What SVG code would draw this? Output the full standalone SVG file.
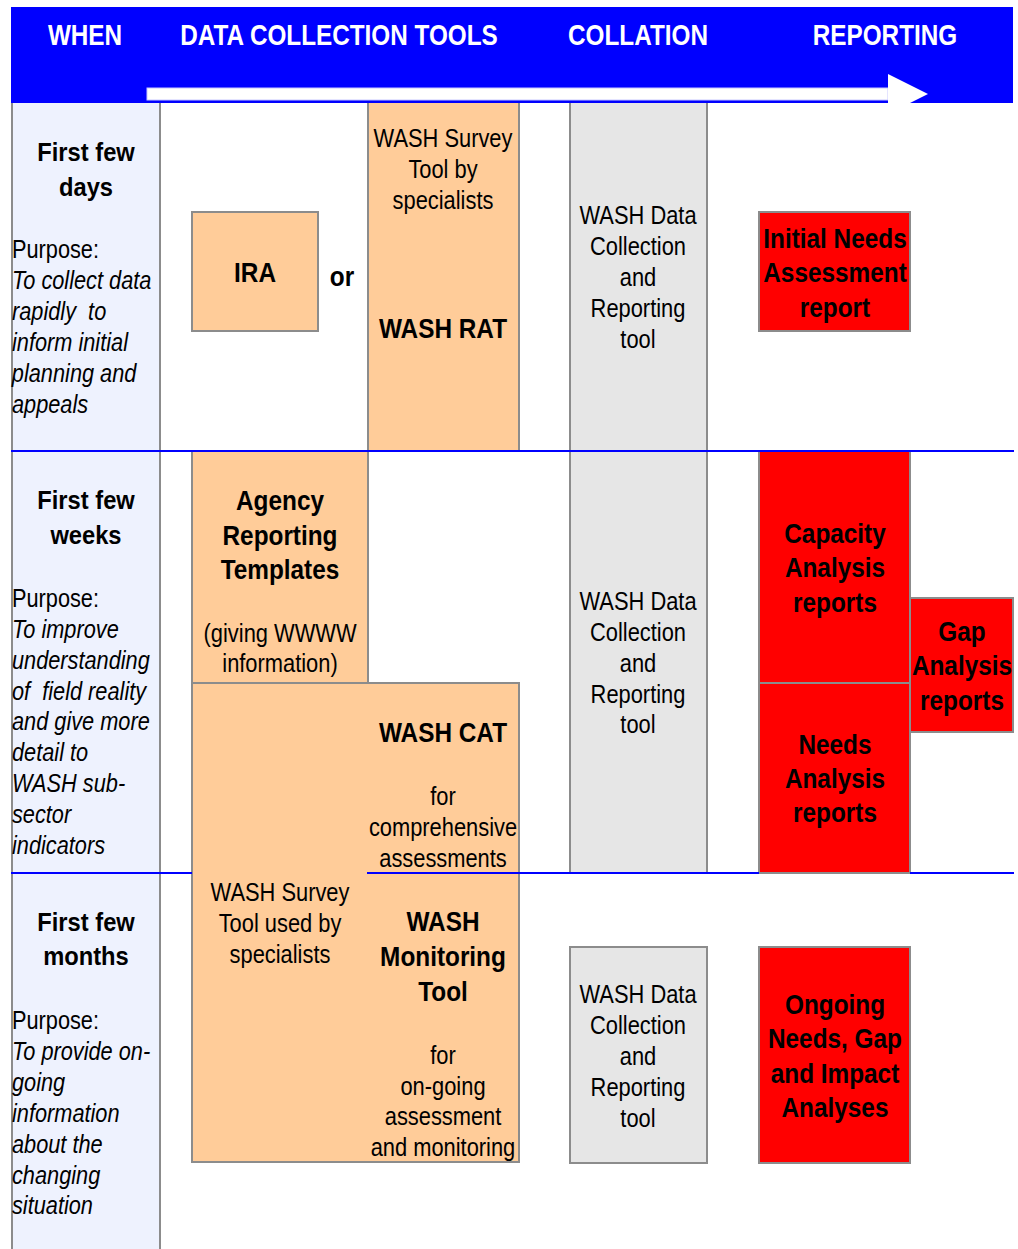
<svg xmlns="http://www.w3.org/2000/svg" width="1018" height="1249" viewBox="0 0 1018 1249">
<style>
text{font-family:"Liberation Sans",Arial,sans-serif;fill:#000;transform-box:fill-box;transform-origin:center;text-anchor:middle}
.hd{font-size:30px;font-weight:bold;fill:#fff;transform:scaleX(0.81)}
.wh{font-size:25.5px;font-weight:bold;transform:scaleX(0.93)}
.pu{font-size:25px;text-anchor:start;transform-origin:left center;transform:scaleX(0.87);white-space:pre}
.pu .i{font-style:italic}
.b{font-size:28px;font-weight:bold;transform:scaleX(0.87)}
.r{font-size:25px;transform:scaleX(0.875)}
.or{fill:#FFCC99;stroke:#8C8C8C;stroke-width:2}
.gr{fill:#E6E6E6;stroke:#8C8C8C;stroke-width:2}
.rd{fill:#FF0000;stroke:#8C8C8C;stroke-width:2}
.bl{stroke:#0000FF;stroke-width:2;fill:none}
.vl{stroke:#8C8C8C;stroke-width:2;fill:none}
</style>
<rect x="0" y="0" width="1018" height="1249" fill="#fff"/>
<g id="header">
<rect x="11" y="7" width="1002" height="96" fill="#0000FF"/>
<text class="hd" x="85" y="45">WHEN</text>
<text class="hd" x="339" y="45">DATA COLLECTION TOOLS</text>
<text class="hd" x="638" y="45">COLLATION</text>
<text class="hd" x="885" y="45">REPORTING</text>
</g>
<g id="connectors">
<rect x="147" y="88" width="741" height="12" fill="#fff" stroke="#C8C8FF" stroke-width="1"/>
<polygon points="888,74 928,94 888,114" fill="#fff"/>
</g>
<g id="when-column">
<rect x="11" y="103" width="149" height="1146" fill="#EEF2FE"/>
<line class="vl" x1="12" y1="103" x2="12" y2="1249"/>
<line class="vl" x1="160" y1="103" x2="160" y2="1249"/>
</g>
<g id="wash-rat-column">
<rect x="368" y="103" width="151" height="348" fill="#FFCC99"/>
<line class="vl" x1="368" y1="103" x2="368" y2="451"/>
<line class="vl" x1="519" y1="103" x2="519" y2="451"/>
</g>
<g id="collation-1">
<rect x="570" y="103" width="137" height="770" fill="#E6E6E6"/>
<line class="vl" x1="570" y1="103" x2="570" y2="873"/>
<line class="vl" x1="707" y1="103" x2="707" y2="873"/>
</g>
<g id="ira"><rect class="or" x="192" y="212" width="126" height="119"/></g>
<g id="initial-needs"><rect class="rd" x="759" y="212" width="151" height="119"/></g>
<g id="agency"><rect class="or" x="192" y="451" width="176" height="232"/></g>
<g id="survey-cat-monitoring"><rect class="or" x="192" y="683" width="327" height="479"/></g>
<g id="capacity-needs">
<rect class="rd" x="759" y="451" width="151" height="422"/>
<line class="vl" x1="759" y1="683" x2="910" y2="683"/>
</g>
<g id="gap"><rect class="rd" x="910" y="598" width="103" height="134"/></g>
<g id="collation-3"><rect class="gr" x="570" y="947" width="137" height="216"/></g>
<g id="ongoing"><rect class="rd" x="759" y="947" width="151" height="216"/></g>
<g id="row-lines">
<line class="bl" x1="11" y1="451" x2="1014" y2="451"/>
<line class="bl" x1="11" y1="873" x2="192" y2="873"/>
<line class="bl" x1="367" y1="873" x2="759" y2="873"/>
<line class="bl" x1="910" y1="873" x2="1014" y2="873"/>
</g>
<g id="when-days-text">
<text class="wh" x="86" y="161">First few</text>
<text class="wh" x="86" y="196">days</text>
<text class="pu" x="12" y="258">Purpose:</text>
<text class="pu" x="12" y="289"><tspan class="i">To collect data</tspan></text>
<text class="pu" x="12" y="320"><tspan class="i">rapidly  to</tspan></text>
<text class="pu" x="12" y="351"><tspan class="i">inform initial</tspan></text>
<text class="pu" x="12" y="382"><tspan class="i">planning and</tspan></text>
<text class="pu" x="12" y="413"><tspan class="i">appeals</tspan></text>
</g>
<g id="when-weeks-text">
<text class="wh" x="86" y="509">First few</text>
<text class="wh" x="86" y="544">weeks</text>
<text class="pu" x="12" y="607">Purpose:</text>
<text class="pu" x="12" y="638"><tspan class="i">To improve</tspan></text>
<text class="pu" x="12" y="669"><tspan class="i">understanding</tspan></text>
<text class="pu" x="12" y="700"><tspan class="i">of  field reality</tspan></text>
<text class="pu" x="12" y="730"><tspan class="i">and give more</tspan></text>
<text class="pu" x="12" y="761"><tspan class="i">detail to</tspan></text>
<text class="pu" x="12" y="792"><tspan class="i">WASH sub-</tspan></text>
<text class="pu" x="12" y="823"><tspan class="i">sector</tspan></text>
<text class="pu" x="12" y="854"><tspan class="i">indicators</tspan></text>
</g>
<g id="when-months-text">
<text class="wh" x="86" y="931">First few</text>
<text class="wh" x="86" y="965">months</text>
<text class="pu" x="12" y="1029">Purpose:</text>
<text class="pu" x="12" y="1060"><tspan class="i">To provide on-</tspan></text>
<text class="pu" x="12" y="1091"><tspan class="i">going</tspan></text>
<text class="pu" x="12" y="1122"><tspan class="i">information</tspan></text>
<text class="pu" x="12" y="1153"><tspan class="i">about the</tspan></text>
<text class="pu" x="12" y="1184"><tspan class="i">changing</tspan></text>
<text class="pu" x="12" y="1214"><tspan class="i">situation</tspan></text>
</g>
<g id="ira-text">
<text class="b" x="255" y="282">IRA</text>
<text class="b" x="342" y="286">or</text>
</g>
<g id="wash-rat-text">
<text class="r" x="443" y="147">WASH Survey</text>
<text class="r" x="443" y="178">Tool by</text>
<text class="r" x="443" y="209">specialists</text>
<text class="b" x="443" y="338">WASH RAT</text>
</g>
<g id="collation-text">
<text class="r" x="638" y="224">WASH Data</text>
<text class="r" x="638" y="255">Collection</text>
<text class="r" x="638" y="286">and</text>
<text class="r" x="638" y="317">Reporting</text>
<text class="r" x="638" y="348">tool</text>
<text class="r" x="638" y="610">WASH Data</text>
<text class="r" x="638" y="641">Collection</text>
<text class="r" x="638" y="672">and</text>
<text class="r" x="638" y="703">Reporting</text>
<text class="r" x="638" y="733">tool</text>
<text class="r" x="638" y="1003">WASH Data</text>
<text class="r" x="638" y="1034">Collection</text>
<text class="r" x="638" y="1065">and</text>
<text class="r" x="638" y="1096">Reporting</text>
<text class="r" x="638" y="1127">tool</text>
</g>
<g id="initial-needs-text">
<text class="b" x="835" y="248">Initial Needs</text>
<text class="b" x="835" y="282">Assessment</text>
<text class="b" x="835" y="317">report</text>
</g>
<g id="agency-text">
<text class="b" x="280" y="510">Agency</text>
<text class="b" x="280" y="545">Reporting</text>
<text class="b" x="280" y="579">Templates</text>
<text class="r" x="280" y="642">(giving WWWW</text>
<text class="r" x="280" y="672">information)</text>
</g>
<g id="survey-cat-monitoring-text">
<text class="b" x="443" y="742">WASH CAT</text>
<text class="r" x="443" y="805">for</text>
<text class="r" x="443" y="836">comprehensive</text>
<text class="r" x="443" y="867">assessments</text>
<text class="r" x="280" y="901">WASH Survey</text>
<text class="r" x="280" y="932">Tool used by</text>
<text class="r" x="280" y="963">specialists</text>
<text class="b" x="443" y="931">WASH</text>
<text class="b" x="443" y="966">Monitoring</text>
<text class="b" x="443" y="1001">Tool</text>
<text class="r" x="443" y="1064">for</text>
<text class="r" x="443" y="1095">on-going</text>
<text class="r" x="443" y="1125">assessment</text>
<text class="r" x="443" y="1156">and monitoring</text>
</g>
<g id="capacity-needs-text">
<text class="b" x="835" y="543">Capacity</text>
<text class="b" x="835" y="577">Analysis</text>
<text class="b" x="835" y="612">reports</text>
<text class="b" x="835" y="754">Needs</text>
<text class="b" x="835" y="788">Analysis</text>
<text class="b" x="835" y="822">reports</text>
</g>
<g id="gap-text">
<text class="b" x="962" y="641">Gap</text>
<text class="b" x="962" y="675">Analysis</text>
<text class="b" x="962" y="710">reports</text>
</g>
<g id="ongoing-text">
<text class="b" x="835" y="1014">Ongoing</text>
<text class="b" x="835" y="1048">Needs, Gap</text>
<text class="b" x="835" y="1083">and Impact</text>
<text class="b" x="835" y="1117">Analyses</text>
</g>
</svg>
